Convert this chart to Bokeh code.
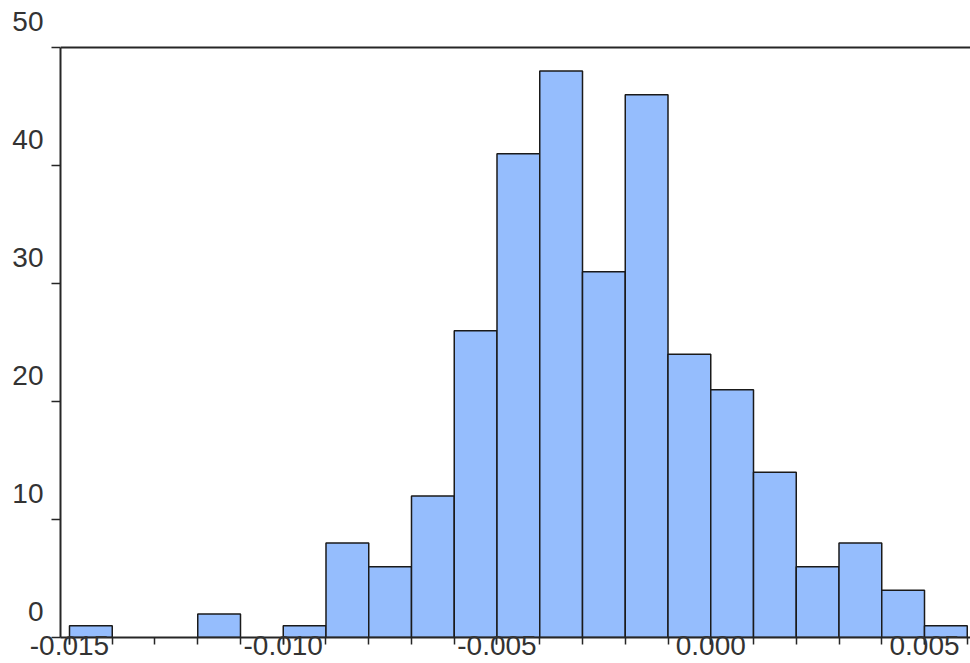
from bokeh.plotting import figure
from bokeh.models import LinearAxis, FixedTicker, Range1d, Span
from bokeh.embed import file_html
from bokeh.resources import INLINE

# ---- data ----
bin_left = [-0.015, -0.014, -0.013, -0.012, -0.011, -0.010, -0.009, -0.008, -0.007,
            -0.006, -0.005, -0.004, -0.003, -0.002, -0.001, 0.000, 0.001, 0.002,
            0.003, 0.004, 0.005]
bin_width = 0.001
counts = [1, 0, 0, 2, 0, 1, 8, 6, 12, 26, 41, 48, 31, 46, 24, 21, 14, 6, 8, 4, 1]

x_tick_values = [-0.015, -0.010, -0.005, 0.000, 0.005]
x_tick_labels = ["-0.015", "-0.010", "-0.005", "0.000", "0.005"]
x_minor_ticks = [-0.015, -0.014, -0.013, -0.012, -0.011, -0.010, -0.009, -0.008,
                 -0.007, -0.006, -0.005, -0.004, -0.003, -0.002, -0.001, 0.000,
                 0.001, 0.002, 0.003, 0.004, 0.005, 0.006]
y_tick_values = [0, 10, 20, 30, 40, 50]
y_tick_labels = ["0", "10", "20", "30", "40", "50"]

x_start, x_end = -0.0152105, 0.006076
y_axis_min, y_axis_max = 0, 50

# ---- layout constants (pixels) ----
W, H = 970, 663
LEFT, BOTTOM = 60, 26
FRAME_TOP = 8          # frame reaches above the axis so the "50" label fits
AXIS_TOP = 47          # pixel row of the value 50 (top border line)
LABEL_LIFT = 26        # y labels sit above their ticks

FONT = "Liberation Sans"
TEXT_COLOR = "#333333"
AXIS_COLOR = "#262626"
FS = "28px"

ppu = (H - BOTTOM - AXIS_TOP) / (y_axis_max - y_axis_min)
y_end = y_axis_min + (H - BOTTOM - FRAME_TOP) / ppu

lefts = [l for l, c in zip(bin_left, counts) if c > 0]
rights = [l + bin_width for l, c in zip(bin_left, counts) if c > 0]
tops = [c for c in counts if c > 0]

p = figure(width=W, height=H, x_range=Range1d(x_start, x_end),
           y_range=Range1d(y_axis_min, y_end), output_backend="svg",
           toolbar_location=None, min_border_left=LEFT, min_border_right=0,
           min_border_top=FRAME_TOP, min_border_bottom=BOTTOM)
p.outline_line_color = None
p.grid.visible = False

p.quad(left=lefts, right=rights, top=tops, bottom=[0] * len(tops),
       fill_color="#95bdfd", line_color="#1a1a1a", line_width=1.5)

# x axis
xa = p.xaxis[0]
xa.ticker = FixedTicker(ticks=x_tick_values, minor_ticks=x_minor_ticks)
xa.major_label_overrides = {v: t for v, t in zip(x_tick_values, x_tick_labels)}
xa.axis_line_color = AXIS_COLOR
xa.axis_line_width = 2
xa.major_tick_line_color = AXIS_COLOR
xa.major_tick_line_width = 1.5
xa.major_tick_in = 0
xa.major_tick_out = 7
xa.minor_tick_line_color = AXIS_COLOR
xa.minor_tick_line_width = 1.5
xa.minor_tick_in = 0
xa.minor_tick_out = 7
xa.major_label_standoff = -9
xa.major_label_text_font = FONT
xa.major_label_text_font_size = FS
xa.major_label_text_color = TEXT_COLOR

# y axis: line and ticks only, from 0 to 50
ya = p.yaxis[0]
ya.bounds = (y_axis_min, y_axis_max)
ya.ticker = FixedTicker(ticks=y_tick_values, minor_ticks=[])
ya.major_label_overrides = {v: "" for v in y_tick_values}
ya.major_label_standoff = 0
ya.axis_line_color = AXIS_COLOR
ya.axis_line_width = 2
ya.major_tick_line_color = AXIS_COLOR
ya.major_tick_line_width = 1.5
ya.major_tick_in = 0
ya.major_tick_out = 9
ya.minor_tick_line_color = None

# y labels: a second axis on a range lifted by LABEL_LIFT px
lift = LABEL_LIFT / ppu
p.extra_y_ranges = {"ylab": Range1d(y_axis_min - lift, y_end - lift)}
la = LinearAxis(y_range_name="ylab",
                ticker=FixedTicker(ticks=y_tick_values, minor_ticks=[]),
                major_label_overrides={v: t for v, t in zip(y_tick_values, y_tick_labels)},
                axis_line_color=None, major_tick_line_color=None,
                minor_tick_line_color=None, major_tick_in=0, major_tick_out=0,
                major_label_standoff=8, major_label_text_font=FONT,
                major_label_text_font_size=FS, major_label_text_color=TEXT_COLOR)
p.add_layout(la, "left")

# top border line at the axis maximum
p.add_layout(Span(location=y_axis_max, dimension="width", line_color=AXIS_COLOR,
                  line_width=2))

open("out.html", "w").write(file_html(p, INLINE))
